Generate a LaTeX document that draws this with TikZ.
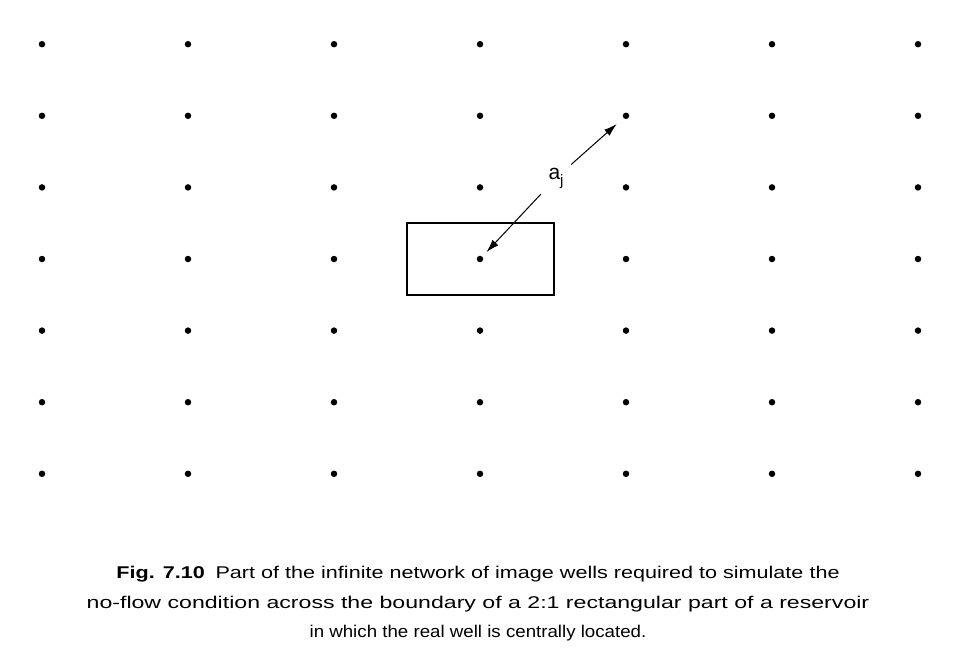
\documentclass[tikz,border=0pt]{standalone}
\usepackage{fontspec}
\usepackage{graphicx}
\setmainfont{Liberation Sans}
\usetikzlibrary{arrows.meta,positioning}

\begin{document}
\begin{tikzpicture}[x=1pt, y=-1pt, every node/.style={font=\fontsize{17}{29.5}\selectfont},
  well/.style={circle, fill, inner sep=0pt, minimum size=6.5pt},
  dist/.style={-{Latex[length=13pt,width=8pt]}, line width=1pt}]
  \useasboundingbox (0,0) rectangle (977,659);
  \foreach \i in {0,...,6}
    \foreach \j in {0,...,6}
      \node[well] (w\i\j) at ({480+146*(\i-3)}, {259+71.6*(\j-3)}) {};
  \draw[line width=1.8pt] (w33.center) ++(-73,-36) rectangle ++(147,72);
  \node[inner sep=0pt, font=\fontsize{21}{21}\selectfont] (aj) at (556,178)
    {a\raisebox{-6pt}{\fontsize{15}{15}\selectfont j}};
  \draw[dist, shorten <=11pt, shorten >=6pt] (aj) -- (w33);
  \draw[dist, shorten <=10pt, shorten >=9pt] (aj) -- (w41);
  \node[align=center] (cap) at (478,604)
    {\scalebox{1.27}[1]{\textbf{Fig. 7.10}\enspace Part of the infinite network of image wells required to simulate the}\\
     \scalebox{1.36}[1]{no-flow condition across the boundary of a 2:1 rectangular part of a reservoir}\\
     \scalebox{1.1}[1]{in which the real well is centrally located.}};
\end{tikzpicture}
\end{document}
